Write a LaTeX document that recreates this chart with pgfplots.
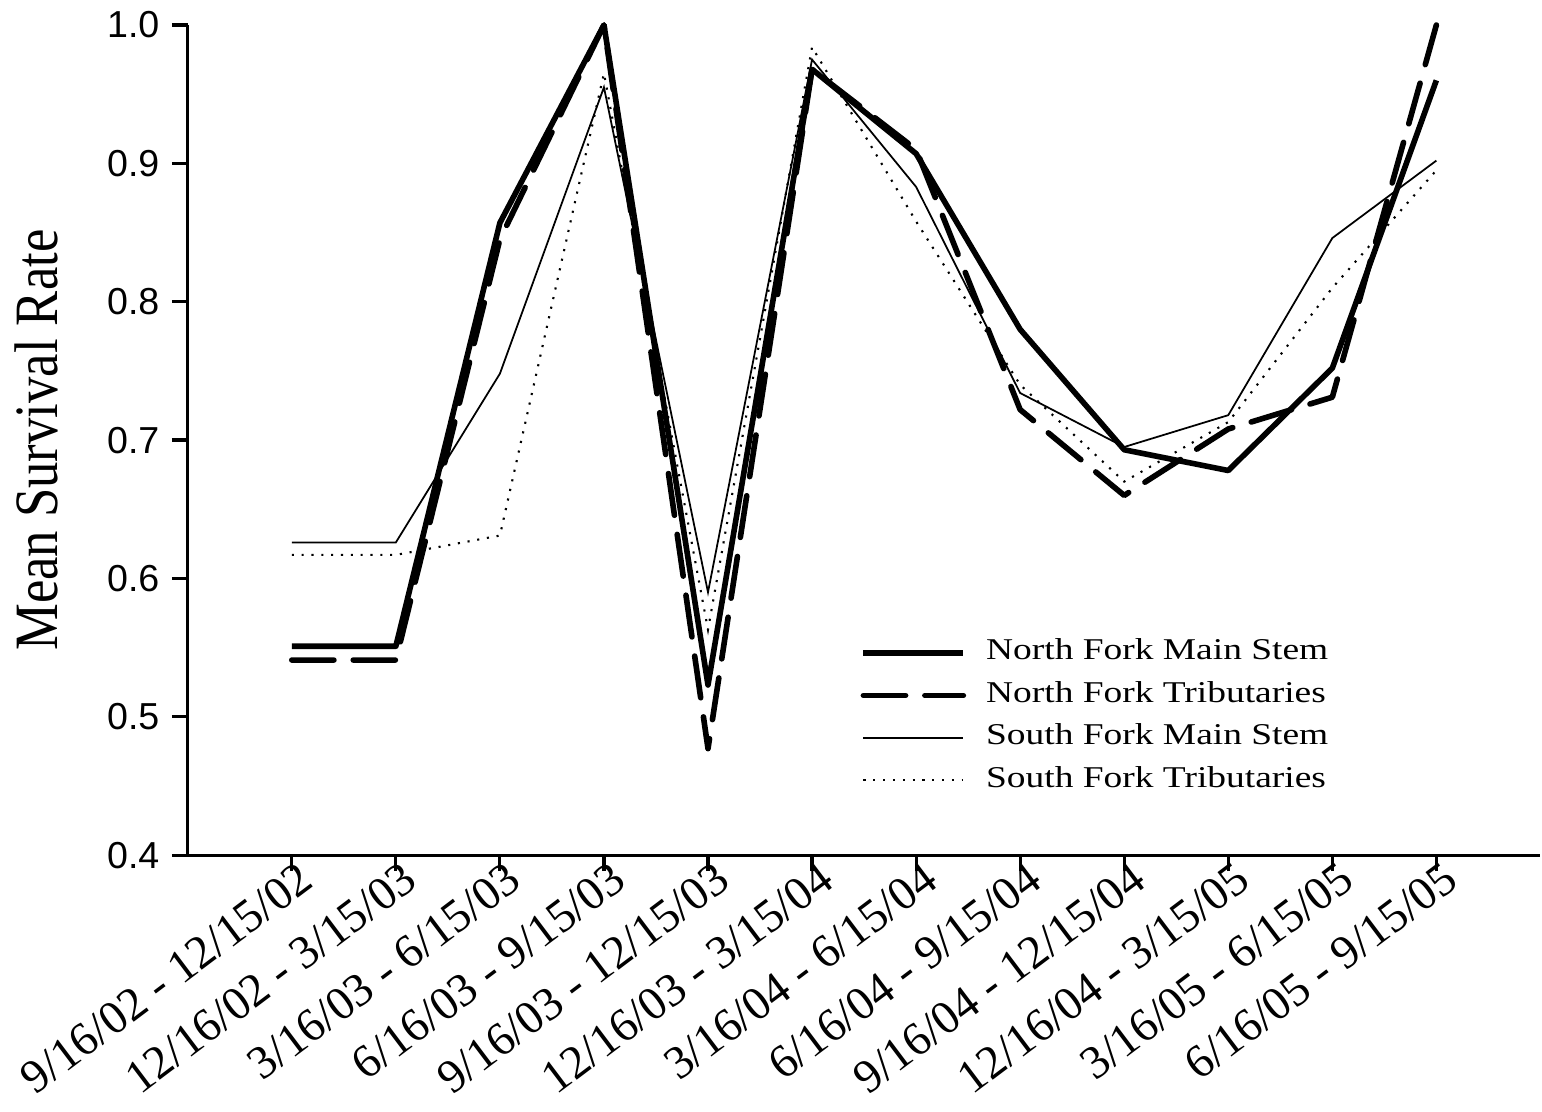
\documentclass[border=0pt]{standalone}
\usepackage{graphicx}
\usepackage{pgfplots}
\pgfplotsset{compat=1.18}
\usepackage{fontspec}
\setmainfont{Liberation Serif}
\newfontfamily\arial{Liberation Sans}
\newfontfamily\timesf{Liberation Serif}
\newcommand\lgd[1]{\scalebox{1.24}[1]{\fontsize{8.6}{10}\selectfont #1}}
\newcommand\xl[1]{\timesf\fontsize{13.4}{14}\selectfont #1}

\begin{document}
\begin{tikzpicture}
\begin{axis}[
  scale only axis, width=135.4mm, height=83.1mm,
  xmin=-1, xmax=12, ymin=0.4, ymax=1.0,
  clip=false,
  axis x line=bottom, axis y line=left,
  axis line style={-, line width=0.9pt},
  tick align=outside, major tick length=1.6mm,
  tick style={line width=0.9pt, black},
  xtick={0,1,2,3,4,5,6,7,8,9,10,11},
  xticklabels={\xl{9/16/02 - 12/15/02}, \xl{12/16/02 - 3/15/03}, \xl{3/16/03 - 6/15/03}, \xl{6/16/03 - 9/15/03}, \xl{9/16/03 - 12/15/03}, \xl{12/16/03 - 3/15/04}, \xl{3/16/04 - 6/15/04}, \xl{6/16/04 - 9/15/04}, \xl{9/16/04 - 12/15/04}, \xl{12/16/04 - 3/15/05}, \xl{3/16/05 - 6/15/05}, \xl{6/16/05 - 9/15/05}},
  xticklabel style={font=\timesf, rotate=37, anchor=east, inner sep=1pt, xshift=1.5mm, yshift=-1.0mm},
  ytick={0.4,0.5,0.6,0.7,0.8,0.9,1.0},
  yticklabels={0.4,0.5,0.6,0.7,0.8,0.9,1.0},
  yticklabel style={font=\arial\fontsize{10.7}{12}\selectfont},
  ylabel={Mean Survival Rate},
  ylabel style={font=\timesf\fontsize{15}{16}\selectfont, at={(axis description cs:-0.1119,0.5)}, anchor=center, yscale=1.17},
  legend cell align=left,
  legend image code/.code={\draw[#1] (0mm,0mm) -- (10mm,0mm);},
  legend style={draw=none, fill=none, at={(axis cs:5.46,0.562)}, anchor=north west,
    inner sep=0pt, row sep=0pt, nodes={inner sep=0pt, text height=8pt, text depth=4.1pt},
    /tikz/every odd column/.append style={column sep=2.0mm}},
]
\addplot[black, line width=1.6pt, line join=round] coordinates {
 (0,0.551) (1,0.551) (2,0.857) (3,1.0) (4,0.523) (5,0.968) (6,0.907) (7,0.780) (8,0.693) (9,0.678) (10,0.752) (11,0.960)};
\addlegendentry{\lgd{North Fork Main Stem}}
\addplot[black, line width=1.6pt, line cap=round, line join=round, dash pattern=on 12pt off 5.5pt] coordinates {
 (0,0.541) (1,0.541) (2,0.845) (3,1.0) (4,0.477) (5,0.968) (6,0.910) (7,0.722) (8,0.660) (9,0.708) (10,0.731) (11,1.0)};
\addlegendentry{\lgd{North Fork Tributaries}}
\addplot[black, line width=0.5pt] coordinates {
 (0,0.626) (1,0.626) (2,0.748) (3,0.955) (4,0.590) (5,0.975) (6,0.883) (7,0.734) (8,0.695) (9,0.718) (10,0.846) (11,0.902)};
\addlegendentry{\lgd{South Fork Main Stem}}
\addplot[black, line width=0.6pt, dash pattern=on 0.6pt off 2.2pt] coordinates {
 (0,0.617) (1,0.617) (2,0.631) (3,0.965) (4,0.563) (5,0.984) (6,0.858) (7,0.740) (8,0.670) (9,0.713) (10,0.810) (11,0.895)};
\addlegendentry{\lgd{South Fork Tributaries}}
\path (rel axis cs:-0.1388,-0.3093) rectangle (rel axis cs:1,1.0265);
\end{axis}
\end{tikzpicture}
\end{document}
